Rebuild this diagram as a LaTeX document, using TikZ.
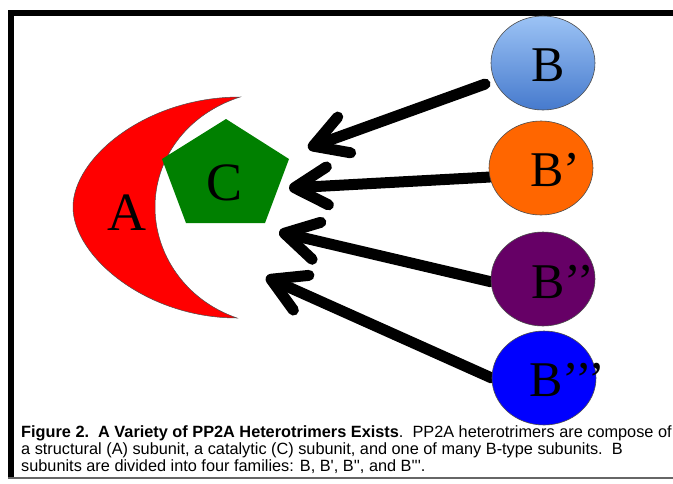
\documentclass[tikz,border=0pt]{standalone}
\usepackage{fontspec}
\setmainfont{Liberation Serif}
\newfontfamily\capfont{Liberation Sans}
\usetikzlibrary{arrows.meta,backgrounds,shapes.geometric}
\definecolor{bblue1}{RGB}{156,195,245}
\definecolor{bblue2}{RGB}{70,122,205}
\definecolor{borange}{RGB}{255,102,0}
\definecolor{bpurple}{RGB}{102,0,102}
\definecolor{bbluedeep}{RGB}{0,0,255}
\definecolor{cgreen}{RGB}{0,128,0}
\definecolor{ared}{RGB}{255,0,0}
\tikzset{
  bub/.style={ellipse, minimum width=104pt, minimum height=94pt, inner sep=0pt, draw=black!70, line width=0.6pt},
  blab/.style={anchor=base west, inner sep=0pt, font=\fontsize{50}{50}\selectfont},
  biglab/.style={anchor=base, inner sep=0pt, font=\fontsize{54}{54}\selectfont},
  arr/.style={line width=11pt, line cap=round, -{Straight Barb[length=33pt,width=38pt,line cap=round,line join=round]}},
  capline/.style={anchor=base west, inner sep=0pt, font=\capfont\fontsize{16.3}{18}\selectfont}
}
\begin{document}
\begin{tikzpicture}[x=1pt,y=-1pt]
\useasboundingbox (0,0) rectangle (673,483);
\begin{scope}[on background layer]
\fill[white] (0,0) rectangle (673,483);
\end{scope}
% frame
\fill[black] (8,10) rectangle (673,16);
\fill[black] (8,10) rectangle (14,478);
\fill[black!60] (8,477) rectangle (673,478.5);

% crescent A
\draw[fill=ared, draw=black!70, line width=0.5pt]
  (240,97) .. controls (146,97) and (73,158) .. (73,207)
  .. controls (73,256) and (146,318) .. (237,318)
  .. controls (185,300) and (155,254) .. (155,207)
  .. controls (155,160) and (185,115) .. (240,97) -- cycle;
\node[biglab] (a) at (127,230) {A};

% pentagon C
\fill[cgreen] (226,119) -- (289,159) -- (265,223) -- (186,223) -- (162,159) -- cycle;
\node[biglab] (c) at (225,200) {C};

% B subunits
\node[bub, top color=bblue1, bottom color=bblue2] (b1) at (543,63) {};
\node[bub, fill=borange] (b2) at (541,168) {};
\node[bub, fill=bpurple] (b3) at (543,279) {};
\node[bub, fill=bbluedeep] (b4) at (544,378) {};
\node[blab] (l1) at (531,81) {B};
\node[blab] (l2) at (530,186) {B’};
\node[blab] (l3) at (531,298) {B’’};
\node[blab] (l4) at (529,396) {B’’’};

% arrow targets
\coordinate (t1) at (308,148);
\coordinate (t2) at (289,188);
\coordinate (t3) at (279,232);
\coordinate (t4) at (266,277);

\begin{scope}[on background layer]
\draw[arr, shorten <=10pt] (b1.200) -- (t1);
\draw[arr] (b2.190) -- (t2);
\draw[arr] (b3.183) -- (t3);
\draw[arr] (b4.west) -- (t4);
\end{scope}

% caption
\node[capline] (cap1) at (21,437) {\textbf{Figure 2.\ \ A Variety of PP2A Heterotrimers Exists}.\ \ PP2A heterotrimers are compose of};
\node[capline] (cap2) at (21,454) {a structural (A) subunit, a catalytic (C) subunit, and one of many B-type subunits.\ \ B};
\node[capline] (cap3) at (21,471) {subunits are divided into four families: B, B\textquotesingle, B\textquotesingle\textquotesingle, and B\textquotesingle\textquotesingle\textquotesingle.};
\end{tikzpicture}
\end{document}
